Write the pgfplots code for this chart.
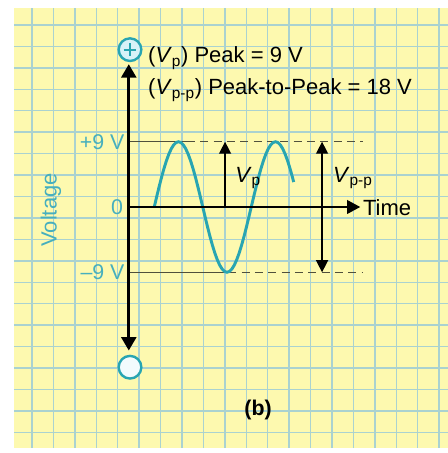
\documentclass[border=0pt]{standalone}
\usepackage{pgfplots}
\pgfplotsset{compat=1.18}
\usepackage{fontspec}
\setmainfont{Liberation Sans}
\usetikzlibrary{arrows.meta}
\definecolor{paper}{RGB}{253,249,175}
\definecolor{gridc}{RGB}{170,210,208}
\definecolor{tealc}{RGB}{40,165,178}
\definecolor{tealtxt}{RGB}{70,175,190}
\definecolor{refl}{RGB}{80,80,60}
\definecolor{circfill}{RGB}{215,242,248}
\begin{document}
\begin{tikzpicture}
\begin{axis}[name=ax,
  scale only axis, width=336pt, height=339.75pt,
  xmin=-5.3608, xmax=13.1134, ymin=-33.931, ymax=28.552,
  axis line style={draw=none},
  xtick=\empty, ytick=\empty,
  axis background/.style={fill=paper},
  no markers,
]
% grid of the paper
\pgfplotsinvokeforeach{0,...,19}{
  \draw[gridc, line width=1.1pt] (axis cs:{-4.041+0.8837*#1},-33.931) -- (axis cs:{-4.041+0.8837*#1},28.552);
  \draw[gridc, line width=1.1pt] (axis cs:-5.3608,{25.103-2.957*#1}) -- (axis cs:13.1134,{25.103-2.957*#1});
}
% white margins
\fill[white] (rel axis cs:0,0) rectangle (rel axis cs:0.03125,1);
\fill[white] (rel axis cs:0,0.98234) rectangle (rel axis cs:1,1);
\fill[white] (rel axis cs:0,0) rectangle (rel axis cs:1,0.011);

% reference levels +9 / -9
\addplot[refl, line width=1.1pt] coordinates {(0,9) (2.35,9)};
\addplot[refl, line width=1.1pt, dash pattern=on 6pt off 4pt] coordinates {(2.35,9) (9.6,9)};
\addplot[refl, line width=1.1pt] coordinates {(0,-9) (4.05,-9)};
\addplot[refl, line width=1.1pt, dash pattern=on 6pt off 4pt] coordinates {(4.05,-9) (9.6,-9)};

% sine wave
\addplot[tealc, line width=2.2pt] coordinates {
(1,0) (1.1,1.408) (1.2,2.781) (1.3,4.086) (1.4,5.290) (1.5,6.364) (1.6,7.281) (1.7,8.019) (1.8,8.560) (1.9,8.889)
(2,9) (2.1,8.889) (2.2,8.560) (2.3,8.019) (2.4,7.281) (2.5,6.364) (2.6,5.290) (2.7,4.086) (2.8,2.781) (2.9,1.408)
(3,0) (3.1,-1.408) (3.2,-2.781) (3.3,-4.086) (3.4,-5.290) (3.5,-6.364) (3.6,-7.281) (3.7,-8.019) (3.8,-8.560) (3.9,-8.889)
(4,-9) (4.1,-8.889) (4.2,-8.560) (4.3,-8.019) (4.4,-7.281) (4.5,-6.364) (4.6,-5.290) (4.7,-4.086) (4.8,-2.781) (4.9,-1.408)
(5,0) (5.1,1.408) (5.2,2.781) (5.3,4.086) (5.4,5.290) (5.5,6.364) (5.6,7.281) (5.7,8.019) (5.8,8.560) (5.9,8.889)
(6,9) (6.1,8.889) (6.2,8.560) (6.3,8.019) (6.4,7.281) (6.5,6.364) (6.6,5.290) (6.7,4.086) (6.75,3.444)};

% axes
\addplot[black, line width=2.2pt, {Triangle[width=11pt,length=10pt]}-{Triangle[width=11pt,length=10pt]}] coordinates {(-0.05,-19.8) (-0.05,19.7)};
\addplot[black, line width=2.2pt, -{Triangle[width=10pt,length=10pt]}] coordinates {(-0.05,0) (9.5,0)};

% Vp and Vpp arrows
\addplot[black, line width=1.1pt, -{Triangle[width=9pt,length=9pt]}] coordinates {(3.92,0) (3.92,9)};
\addplot[black, line width=1.1pt, {Triangle[width=9pt,length=9pt]}-{Triangle[width=9pt,length=9pt]}] coordinates {(7.92,-9) (7.92,9)};

% circles
\draw[tealc, line width=1.8pt, fill=circfill] (axis cs:0,21.7) circle[radius=8.5pt];
\draw[tealc, line width=1.4pt] (axis cs:-0.26,21.7) -- (axis cs:0.26,21.7);
\draw[tealc, line width=1.4pt] (axis cs:0,20.83) -- (axis cs:0,22.57);
\draw[tealc, line width=1.8pt, fill=white!70!circfill] (axis cs:0,-22.1) circle[radius=8.5pt];

% texts
\node[anchor=west, inner sep=0pt, font=\fontsize{16.5}{19}\selectfont] at (axis cs:0.74,20.55) {(\textit{V}\textsubscript{p}) Peak = 9 V};
\node[anchor=west, inner sep=0pt, font=\fontsize{16.5}{19}\selectfont] at (axis cs:0.74,16.14) {(\textit{V}\textsubscript{p-p}) Peak-to-Peak = 18 V};
\node[anchor=west, inner sep=0pt, font=\fontsize{16.5}{19}\selectfont] at (axis cs:4.33,4.0) {\textit{V}\textsubscript{p}};
\node[anchor=west, inner sep=0pt, font=\fontsize{16.5}{19}\selectfont] at (axis cs:8.37,4.0) {\textit{V}\textsubscript{p-p}};
\node[anchor=west, inner sep=0pt, font=\fontsize{16.5}{19}\selectfont] at (axis cs:9.6,-0.1) {Time};
\node[anchor=east, inner sep=0pt, text=tealtxt, font=\fontsize{16}{19}\selectfont] at (axis cs:-0.22,9) {+9 V};
\node[anchor=east, inner sep=0pt, text=tealtxt, font=\fontsize{16}{19}\selectfont] at (axis cs:-0.28,0) {0};
\node[anchor=east, inner sep=0pt, text=tealtxt, font=\fontsize{16}{19}\selectfont] at (axis cs:-0.22,-9) {–9 V};
\node[rotate=90, inner sep=0pt, text=tealtxt, font=\fontsize{16.5}{19}\selectfont] at (axis cs:-3.26,-0.4) {Voltage};
\node[inner sep=0pt, font=\bfseries\fontsize{16}{19}\selectfont] at (axis cs:5.28,-28.0) {(b)};
\end{axis}
\pgfresetboundingbox
\path[use as bounding box] (ax.south west) rectangle (ax.north east);
\end{tikzpicture}
\end{document}
